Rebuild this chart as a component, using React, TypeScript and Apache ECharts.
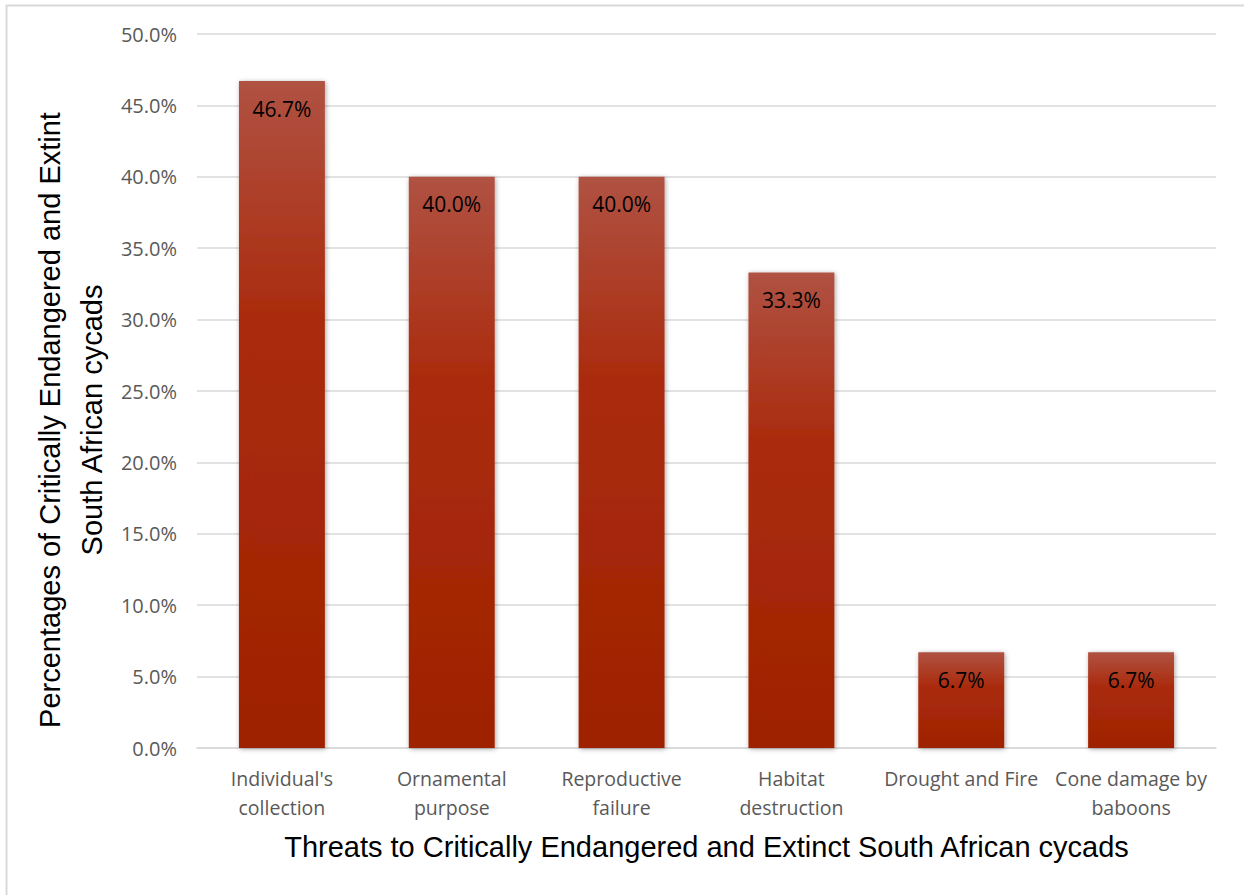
import React, { useEffect, useRef } from "react";
import * as echarts from "echarts";

const categories = [
  "Individual's\ncollection",
  "Ornamental\npurpose",
  "Reproductive\nfailure",
  "Habitat\ndestruction",
  "Drought and Fire",
  "Cone damage by\nbaboons",
];
const percentages = [46.7, 40.0, 40.0, 33.3, 6.7, 6.7];
const yTitle = "Percentages of Critically Endangered and Extint\nSouth African cycads";
const xTitle = "Threats to Critically Endangered and Extinct South African cycads";

const LABEL_FONT = "'Open Sans', 'Noto Sans', sans-serif";
const TITLE_FONT = "'Liberation Sans', Arial, sans-serif";

export default function App() {
  const ref = useRef<HTMLDivElement>(null);
  useEffect(() => {
    document.body.style.margin = "0";
    const chart = echarts.init(ref.current!, null, { renderer: "svg" });
    chart.setOption({
      animation: false,
      backgroundColor: "#ffffff",
      graphic: [
        {
          type: "rect",
          shape: { x: 6.5, y: 5.5, width: 1260, height: 920 },
          style: { fill: "none", stroke: "#d9d9d9", lineWidth: 2 },
          silent: true,
        },
        {
          // vertical axis title, centred a little below the plot's middle
          type: "text",
          x: 71,
          y: 420,
          rotation: Math.PI / 2,
          silent: true,
          style: {
            text: yTitle,
            fontFamily: TITLE_FONT,
            fontSize: 29,
            lineHeight: 42,
            fill: "#000000",
            align: "center",
            verticalAlign: "middle",
          },
        },
      ],
      grid: { left: 197, right: 28, top: 34, bottom: 147 },
      xAxis: {
        type: "category",
        data: categories,
        name: xTitle,
        nameLocation: "middle",
        nameGap: 84,
        nameTextStyle: { fontFamily: TITLE_FONT, fontSize: 29, color: "#000000" },
        axisLine: { lineStyle: { color: "#d9d9d9", width: 1.5 } },
        axisTick: { show: false },
        axisLabel: {
          fontFamily: LABEL_FONT,
          fontSize: 19.5,
          color: "#595959",
          margin: 16,
          lineHeight: 29,
          interval: 0,
        },
      },
      yAxis: {
        type: "value",
        min: 0,
        max: 50,
        interval: 5,
        axisLine: { show: false },
        axisTick: { show: false },
        splitLine: { lineStyle: { color: "#d9d9d9", width: 1.5 } },
        axisLabel: {
          fontFamily: LABEL_FONT,
          fontSize: 20,
          color: "#595959",
          margin: 20,
          formatter: (v: number) => v.toFixed(1) + "%",
        },
      },
      series: [
        {
          type: "bar",
          data: percentages,
          barWidth: "50.6%",
          itemStyle: {
            color: new echarts.graphic.LinearGradient(0, 0, 0, 1, [
              { offset: 0, color: "#b05243" },
              { offset: 0.35, color: "#aa2c0e" },
              { offset: 1, color: "#9e2200" },
            ]),
            shadowColor: "rgba(0,0,0,0.35)",
            shadowBlur: 5,
            shadowOffsetX: 1,
            shadowOffsetY: 1,
          },
          label: {
            show: true,
            position: "insideTop",
            distance: 17,
            fontFamily: LABEL_FONT,
            fontSize: 21,
            color: "#000000",
            formatter: (p: any) => Number(p.value).toFixed(1) + "%",
          },
        },
      ],
    });
    return () => chart.dispose();
  }, []);
  return <div ref={ref} style={{ width: 1244, height: 895 }} />;
}
